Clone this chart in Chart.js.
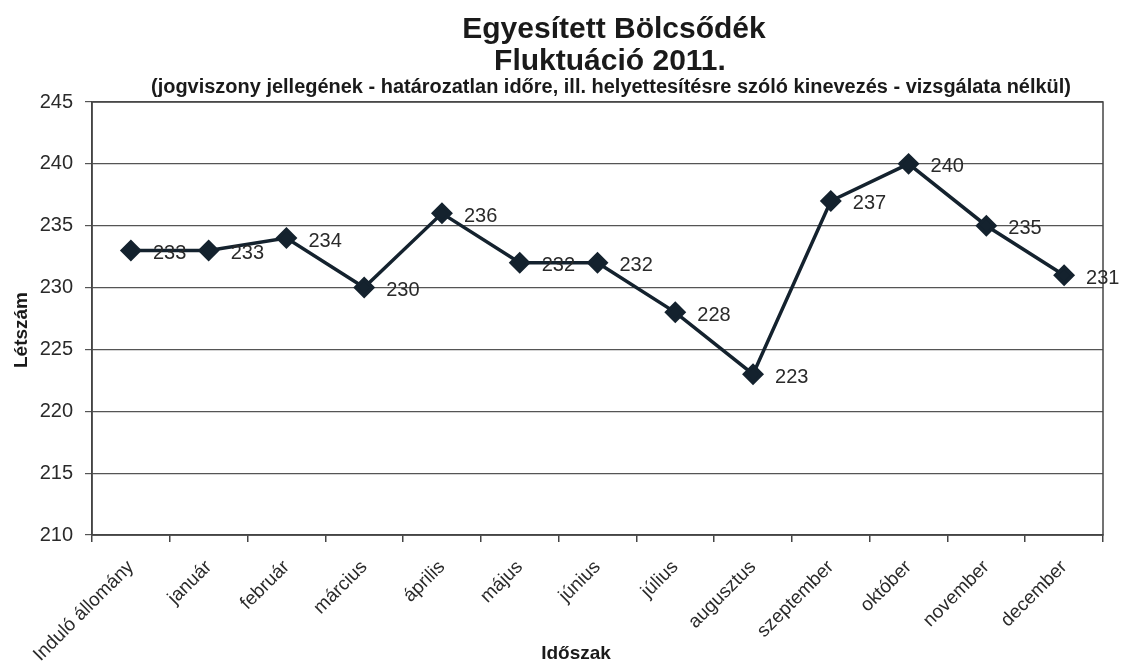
<!DOCTYPE html>
<html><head><meta charset="utf-8">
<script src="https://cdn.jsdelivr.net/npm/chart.js@4/dist/chart.umd.min.js"></script>
<style>html,body{margin:0;padding:0;background:#fff}#wrap{width:1125px;height:663px}</style>
</head><body><div id="wrap"><canvas id="c" width="1125" height="663"></canvas></div>
<script>
const categories = ['Induló állomány','január','február','március','április','május','június','július','augusztus','szeptember','október','november','december'];
const values = [233,233,234,230,236,232,232,228,223,237,240,235,231];
const yTicks = [210,215,220,225,230,235,240,245];
const titleLines = ['Egyesített Bölcsődék','Fluktuáció 2011.'];
const subtitleText = '(jogviszony jellegének - határozatlan időre, ill. helyettesítésre szóló kinevezés - vizsgálata nélkül)';
const yTitle = 'Létszám';
const xTitle = 'Időszak';

const FONT = '"Liberation Sans", Arial, sans-serif';
const NARROW = '"Liberation Sans Narrow", "Arial Narrow", "Liberation Sans", sans-serif';

const decor = {
  id:'decor',
  afterDraw(chart){
    const ctx = chart.ctx, a = chart.chartArea;
    ctx.save();
    ctx.strokeStyle = '#444'; ctx.lineWidth = 1.5;
    ctx.strokeRect(a.left, a.top, a.right-a.left, a.bottom-a.top);
    // data labels
    const meta = chart.getDatasetMeta(0);
    ctx.fillStyle = '#2a2a2a'; ctx.font = '20px ' + FONT;
    ctx.textAlign = 'left'; ctx.textBaseline = 'middle';
    meta.data.forEach((pt,i)=>{ ctx.fillText(String(values[i]), pt.x + 22, pt.y + 3); });
    // titles
    ctx.fillStyle = '#1a1a1a'; ctx.textAlign = 'center'; ctx.textBaseline = 'alphabetic';
    ctx.font = 'bold 30px ' + FONT;
    ctx.fillText(titleLines[0], 614, 38);
    ctx.fillText(titleLines[1], 610, 70);
    ctx.font = 'bold 20px ' + NARROW;
    ctx.fillText(subtitleText, 611, 93, 920);
    // axis titles
    ctx.font = 'bold 19px ' + FONT;
    ctx.fillText(xTitle, 576, 659);
    ctx.translate(27, 330); ctx.rotate(-Math.PI/2);
    ctx.fillText(yTitle, 0, 0);
    ctx.restore();
  }
};

new Chart(document.getElementById('c'), {
  type:'line',
  data:{ labels: categories, datasets:[{
    data: values, borderColor:'#14222e', backgroundColor:'#14222e', borderWidth:3.5,
    pointStyle:'rectRot', pointRadius:8.5, pointHoverRadius:8.5, pointBackgroundColor:'#14222e', pointBorderColor:'#14222e', tension:0
  }]},
  options:{
    responsive:false, animation:false,
    layout:{ padding:{ top:102, right:22, left:0, bottom:0 } },
    plugins:{ legend:{display:false}, title:{display:false}, tooltip:{enabled:false} },
    scales:{
      x:{
        offset:true,
        grid:{ offset:true, drawOnChartArea:false, tickLength:7, color:'#444', lineWidth:1.5 },
        border:{ color:'#444', width:1.5 },
        ticks:{ maxRotation:45, minRotation:45, autoSkip:false, font:{ family:FONT, size:19 }, color:'#2a2a2a', padding:14 },
        title:{ display:false },
        afterFit(s){ s.height = 128; }
      },
      y:{
        min:210, max:245,
        afterBuildTicks(s){ s.ticks = yTicks.map(v=>({value:v})); },
        grid:{ color:'#555', lineWidth:1.2, tickLength:7 },
        border:{ color:'#444', width:1.5 },
        ticks:{ font:{ family:FONT, size:20 }, color:'#2a2a2a', padding:12 },
        title:{ display:false },
        afterFit(s){ s.width = 92; }
      }
    }
  },
  plugins:[decor]
});
</script></body></html>
